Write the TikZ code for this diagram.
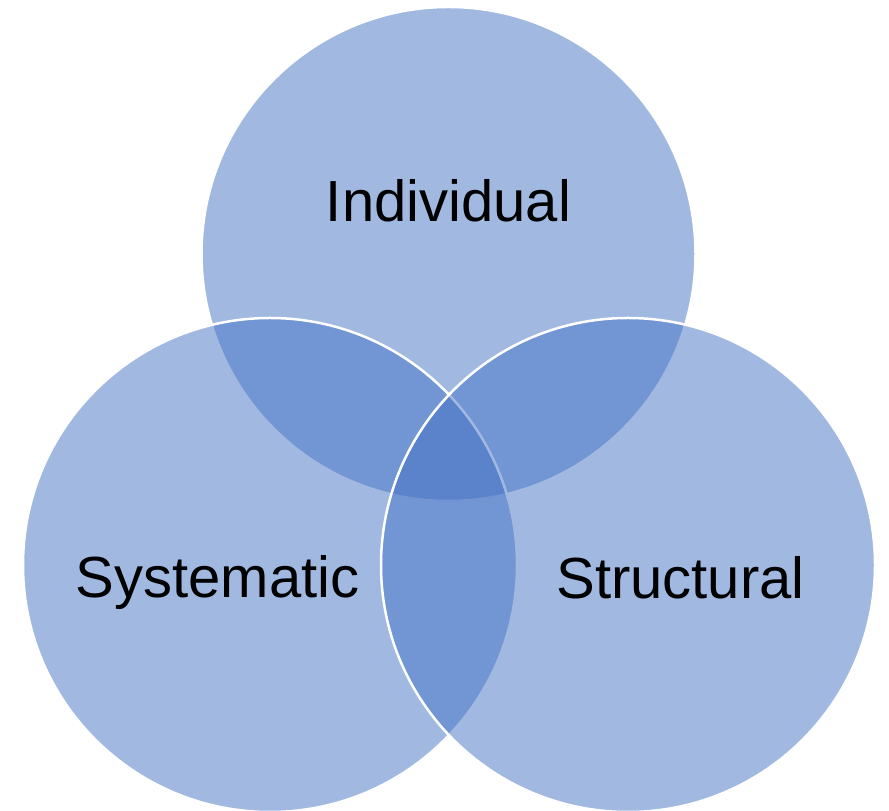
\documentclass[tikz,border=0pt]{standalone}
\usepackage{fontspec}
\setmainfont{Liberation Sans}
\definecolor{vennblue}{HTML}{4472C4}
\begin{document}
\begin{tikzpicture}[x=1pt,y=1pt,
  venn/.style={circle, inner sep=0pt, minimum size=494pt, fill=vennblue, fill opacity=0.5, draw=white, draw opacity=1, line width=2.5pt},
  lbl/.style={anchor=base, font=\fontsize{58}{60}\selectfont, text=black, inner sep=0pt}]
\useasboundingbox (0,0) rectangle (889,811);
\node[venn] (top) at (448.5,557) {};
\node[venn] (left) at (270,246) {};
\node[venn] (right) at (628,246) {};
\node[lbl] (tind) at (448.5,589) {Individual};
\node[lbl] (tsys) at (217.5,213) {Systematic};
\node[lbl] (tstr) at (680.5,212) {Structural};
\end{tikzpicture}
\end{document}
